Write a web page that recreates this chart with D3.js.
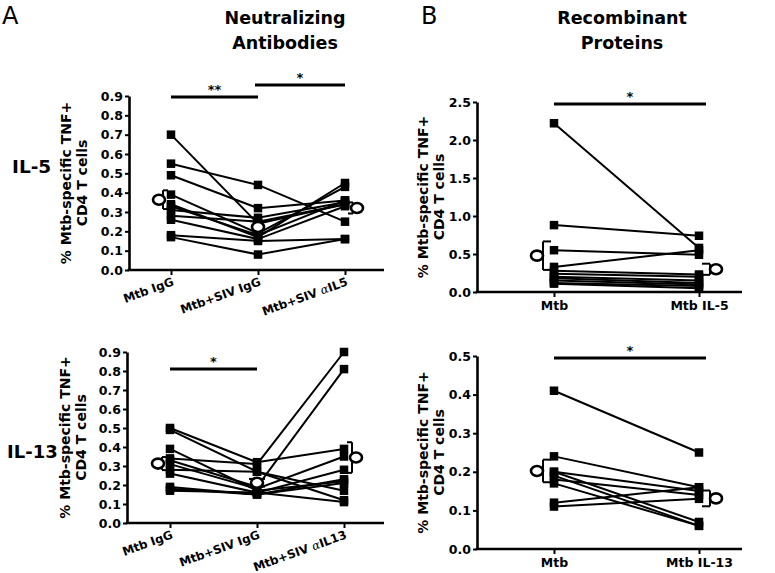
<!DOCTYPE html>
<html><head><meta charset="utf-8">
<script src="https://cdn.jsdelivr.net/npm/d3@7"></script>
<style>
body{margin:0;background:#fff;}
svg{display:block;}
.tick text{font-family:"DejaVu Sans",sans-serif;font-weight:bold;fill:#000;}
</style></head><body>
<svg id="chart" width="775" height="573"></svg>
<script>
// ---------- DATA ----------
const neutIL5Cats = ["Mtb IgG", "Mtb+SIV IgG", "Mtb+SIV αIL5"];
const neutIL13Cats = ["Mtb IgG", "Mtb+SIV IgG", "Mtb+SIV αIL13"];
const recIL5Cats = ["Mtb", "Mtb IL-5"];
const recIL13Cats = ["Mtb", "Mtb IL-13"];

const neutIL5_MtbIgG    = [0.70, 0.55, 0.49, 0.39, 0.34, 0.33, 0.31, 0.28, 0.26, 0.18, 0.17];
const neutIL5_SivIgG    = [0.24, 0.44, 0.32, 0.19, 0.17, 0.18, 0.27, 0.25, 0.16, 0.15, 0.08];
const neutIL5_SivAnti   = [0.34, 0.25, 0.36, 0.43, 0.45, 0.36, 0.35, 0.34, 0.33, 0.16, 0.16];

const neutIL13_MtbIgG   = [0.50, 0.49, 0.39, 0.34, 0.33, 0.31, 0.28, 0.26, 0.19, 0.18, 0.17];
const neutIL13_SivIgG   = [0.32, 0.27, 0.17, 0.31, 0.19, 0.18, 0.27, 0.16, 0.15, 0.15, 0.16];
const neutIL13_SivAnti  = [0.39, 0.12, 0.22, 0.90, 0.81, 0.35, 0.17, 0.28, 0.23, 0.21, 0.11];

const recIL5_Mtb        = [2.22, 0.88, 0.55, 0.33, 0.28, 0.24, 0.20, 0.18, 0.15, 0.12, 0.11];
const recIL5_MtbIL5     = [0.58, 0.74, 0.49, 0.55, 0.23, 0.20, 0.15, 0.12, 0.10, 0.08, 0.05];

const recIL13_Mtb       = [0.41, 0.24, 0.20, 0.20, 0.19, 0.18, 0.17, 0.12, 0.11];
const recIL13_MtbIL13   = [0.25, 0.16, 0.15, 0.07, 0.06, 0.14, 0.06, 0.16, 0.13];

const neutTicks  = [0, 0.1, 0.2, 0.3, 0.4, 0.5, 0.6, 0.7, 0.8, 0.9];
const recIL5Ticks = [0, 0.5, 1.0, 1.5, 2.0, 2.5];
const recIL13Ticks = [0, 0.1, 0.2, 0.3, 0.4, 0.5];

const sigNeutIL5 = [{from: 0, to: 1, label: "**"}, {from: 1, to: 2, label: "*"}];
const sigNeutIL13 = [{from: 0, to: 1, label: "*"}];
const sigRecIL5 = [{from: 0, to: 1, label: "*"}];
const sigRecIL13 = [{from: 0, to: 1, label: "*"}];

const yTitle = ["% Mtb-specific TNF+", "CD4 T cells"];

// ---------- DRAW ----------
const svg = d3.select("#chart");
const FONT = "'DejaVu Sans', sans-serif";

function panel(o) {
  const g = svg.append("g");
  const x = d3.scalePoint().domain(o.cats).range([o.c0, o.c1]);
  const y = d3.scaleLinear().domain([0, o.ymax]).range([o.yb, o.yt]);
  const cols = o.series;
  const n = cols[0].length;

  // y axis
  const ya = g.append("g").attr("transform", `translate(${o.ax},0)`)
    .call(d3.axisLeft(y).tickValues(o.ticks).tickFormat(d3.format(".1f")).tickSize(4).tickSizeOuter(0).tickPadding(2));
  ya.select(".domain").attr("stroke", "#000").attr("stroke-width", 2.6);
  ya.selectAll(".tick line").attr("stroke", "#000").attr("stroke-width", 2);
  ya.selectAll(".tick text").attr("font-size", 12.5);

  // x axis
  const xa = g.append("g").attr("transform", `translate(0,${o.yb})`)
    .call(d3.axisBottom(x).tickSize(5).tickSizeOuter(0).tickPadding(4));
  xa.select(".domain").remove();
  xa.selectAll(".tick line").attr("stroke", "#000").attr("stroke-width", 2);
  g.append("line").attr("x1", o.ax - 1.3).attr("x2", o.axEnd).attr("y1", o.yb).attr("y2", o.yb)
    .attr("stroke", "#000").attr("stroke-width", 2.6);
  if (o.rotate) {
    xa.selectAll(".tick text")
      .attr("text-anchor", "end")
      .attr("font-size", 11.8)
      .attr("dy", null)
      .attr("y", null)
      .attr("transform", "translate(3,15) rotate(-20)")
      .each(function (d) {
        const t = d3.select(this);
        if (d.indexOf("α") >= 0) {
          const parts = d.split("α");
          t.text(null);
          t.append("tspan").text(parts[0]);
          t.append("tspan").attr("font-style", "italic").attr("font-weight", "normal").attr("font-family", "'DejaVu Serif', serif").text("α");
          t.append("tspan").text(parts[1]);
        }
      });
  } else {
    xa.selectAll(".tick text").attr("font-size", 12.5).attr("dy", "0.75em");
  }

  // subject lines
  const subjects = d3.range(n).map(i => cols.map((c, j) => [o.cats[j], c[i]]));
  const line = d3.line().x(d => x(d[0])).y(d => y(d[1]));
  g.append("g").selectAll("path").data(subjects).join("path")
    .attr("d", line).attr("fill", "none").attr("stroke", "#000").attr("stroke-width", 2);

  // squares
  const pts = [];
  cols.forEach((c, j) => c.forEach(v => pts.push([o.cats[j], v])));
  const s = 8.5;
  g.append("g").selectAll("rect").data(pts).join("rect")
    .attr("x", d => x(d[0]) - s / 2).attr("y", d => y(d[1]) - s / 2)
    .attr("width", s).attr("height", s).attr("fill", "#000");

  // mean ± SEM markers
  cols.forEach((c, j) => {
    const m = d3.mean(c), se = d3.deviation(c) / Math.sqrt(c.length);
    const cx = x(o.cats[j]);
    const side = o.sides[j];
    const mg = g.append("g");
    if (side === 0) {
      mg.append("line").attr("x1", cx).attr("x2", cx).attr("y1", y(m - se)).attr("y2", y(m + se)).attr("stroke", "#000").attr("stroke-width", 2);
      [m - se, m + se].forEach(v => mg.append("line").attr("x1", cx - 8).attr("x2", cx + 8).attr("y1", y(v)).attr("y2", y(v)).attr("stroke", "#000").attr("stroke-width", 2));
      mg.append("ellipse").attr("cx", cx).attr("cy", y(m)).attr("rx", 6).attr("ry", 5).attr("fill", "#fff").attr("stroke", "#000").attr("stroke-width", 2.6);
    } else {
      const vx = cx + side * o.bOff, ax = cx + side * 3;
      mg.append("line").attr("x1", vx).attr("x2", vx).attr("y1", y(m - se)).attr("y2", y(m + se)).attr("stroke", "#000").attr("stroke-width", 2);
      [m - se, m + se].forEach(v => mg.append("line").attr("x1", ax).attr("x2", vx).attr("y1", y(v)).attr("y2", y(v)).attr("stroke", "#000").attr("stroke-width", 2));
      mg.append("ellipse").attr("cx", cx + side * o.cOff).attr("cy", y(m)).attr("rx", 6).attr("ry", 5).attr("fill", "#fff").attr("stroke", "#000").attr("stroke-width", 2.6);
    }
  });

  // significance bars
  o.sig.forEach((sg, k) => {
    const yy = o.sigY[k];
    const xa1 = x(o.cats[sg.from]), xa2 = x(o.cats[sg.to]);
    const x1 = sg.from === 0 ? xa1 : xa1 - 3, x2 = xa2 + (o.cats.length === 2 ? 7 : 0);
    g.append("line").attr("x1", x1).attr("x2", x2).attr("y1", yy).attr("y2", yy).attr("stroke", "#000").attr("stroke-width", 3);
    g.append("text").attr("x", (x1 + x2) / 2).attr("y", yy - 3).attr("text-anchor", "middle")
      .attr("font-family", FONT).attr("font-weight", "bold").attr("font-size", 13).text(sg.label);
  });

  // y title
  const ym = (o.yb + o.yt) / 2;
  yTitle.forEach((t, i) => {
    g.append("text").attr("transform", `translate(${o.tx + i * 16},${ym}) rotate(-90)`)
      .attr("text-anchor", "middle").attr("font-family", FONT).attr("font-weight", "bold")
      .attr("font-size", 14).text(t);
  });
}

panel({cats: neutIL5Cats, series: [neutIL5_MtbIgG, neutIL5_SivIgG, neutIL5_SivAnti], ymax: 0.9, ticks: neutTicks,
  ax: 129, axEnd: 384, c0: 171, c1: 345, yb: 270, yt: 96, rotate: true, sides: [-1, 0, 1], bOff: 8, cOff: 12,
  sig: sigNeutIL5, sigY: [97, 85], tx: 71});
panel({cats: neutIL13Cats, series: [neutIL13_MtbIgG, neutIL13_SivIgG, neutIL13_SivAnti], ymax: 0.9, ticks: neutTicks,
  ax: 127, axEnd: 384, c0: 170, c1: 344, yb: 523, yt: 352, rotate: true, sides: [-1, 0, 1], bOff: 8, cOff: 12,
  sig: sigNeutIL13, sigY: [369], tx: 70});
panel({cats: recIL5Cats, series: [recIL5_Mtb, recIL5_MtbIL5], ymax: 2.5, ticks: recIL5Ticks,
  ax: 477, axEnd: 742, c0: 554, c1: 699, yb: 292, yt: 102, rotate: false, sides: [-1, 1], bOff: 11, cOff: 17,
  sig: sigRecIL5, sigY: [104], tx: 428});
panel({cats: recIL13Cats, series: [recIL13_Mtb, recIL13_MtbIL13], ymax: 0.5, ticks: recIL13Ticks,
  ax: 477, axEnd: 742, c0: 554, c1: 699, yb: 549, yt: 356, rotate: false, sides: [-1, 1], bOff: 11, cOff: 17,
  sig: sigRecIL13, sigY: [358], tx: 428});

// headers
const hdr = (x, y, t, size, weight, anchor) => svg.append("text").attr("x", x).attr("y", y)
  .attr("font-family", FONT).attr("font-weight", weight).attr("font-size", size).attr("text-anchor", anchor).text(t);
hdr(2, 24, "A", 24, "normal", "start");
hdr(421, 24, "B", 24, "normal", "start");
hdr(285, 24, "Neutralizing", 17.5, "bold", "middle");
hdr(285, 49, "Antibodies", 17.5, "bold", "middle");
hdr(622, 24, "Recombinant", 17.5, "bold", "middle");
hdr(622, 49, "Proteins", 17.5, "bold", "middle");
hdr(12, 173, "IL-5", 18.5, "bold", "start");
hdr(7, 458, "IL-13", 18, "bold", "start");
</script></body></html>
